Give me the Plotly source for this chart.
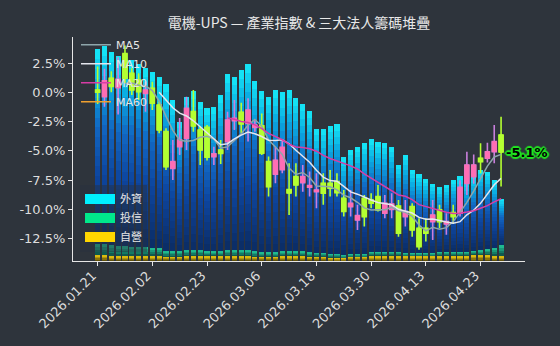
import plotly.graph_objects as go
import pandas as pd

# ---------------- data ----------------
dates = [
    "2026.01.21", "2026.01.22", "2026.01.23", "2026.01.26", "2026.01.27", "2026.01.28", "2026.01.29", "2026.01.30",
    "2026.02.02", "2026.02.03", "2026.02.04", "2026.02.05", "2026.02.06", "2026.02.09", "2026.02.10", "2026.02.11",
    "2026.02.23", "2026.02.24", "2026.02.25", "2026.02.26", "2026.03.02", "2026.03.03", "2026.03.04", "2026.03.05",
    "2026.03.06", "2026.03.09", "2026.03.10", "2026.03.11", "2026.03.12", "2026.03.13", "2026.03.16", "2026.03.17",
    "2026.03.18", "2026.03.19", "2026.03.20", "2026.03.23", "2026.03.24", "2026.03.25", "2026.03.26", "2026.03.27",
    "2026.03.30", "2026.03.31", "2026.04.01", "2026.04.02", "2026.04.07", "2026.04.08", "2026.04.09", "2026.04.10",
    "2026.04.13", "2026.04.14", "2026.04.15", "2026.04.16", "2026.04.17", "2026.04.20", "2026.04.21", "2026.04.22",
    "2026.04.23", "2026.04.24", "2026.04.27", "2026.04.28",
]

# industry index, % change vs. start
opens = [0.2, -0.37, 1.2, 0.4, 3.3, 1.62, 1.05, -0.09, 0.34, -1.08,
         -3.36, -6.49, -4.64, -3.93, -1.65, -3.22, -2.99, -5.49, -4.92, -4.21,
         -2.42, -1.7, -2.65, -2.99, -2.85, -5.92, -7.0, -6.6, -8.3, -7.2,
         -7.71, -8.1, -8.48, -7.77, -7.77, -7.62, -9.05, -9.76, -10.9, -9.05,
         -9.19, -8.9, -10.33, -9.99, -9.7, -10.61, -9.76, -11.61, -11.61, -11.04,
         -10.04, -11.24, -10.27, -10.33, -7.77, -7.2, -5.63, -5.63, -5.07, -3.64]
highs = [2.2, 2.0, 1.8, 3.0, 4.0, 2.05, 1.62, 0.91, 0.91, -0.8,
         -3.07, -4.07, -2.2, -0.37, 0.2, -2.93, -2.79, -4.64, -4.07, -1.65,
         -0.66, -0.9, -0.51, -2.36, -1.8, -5.49, -4.64, -4.07, -6.06, -6.06,
         -6.2, -6.77, -6.9, -6.9, -6.63, -6.9, -8.34, -8.34, -9.6, -8.76,
         -8.62, -7.91, -8.76, -8.62, -9.19, -9.19, -9.47, -10.75, -10.75, -9.19,
         -9.6, -10.33, -9.6, -7.5, -5.07, -5.3, -4.35, -4.3, -2.79, -2.08]
lows = [-1.0, -1.23, 0.0, -1.9, 0.8, -0.23, -0.66, -1.65, -1.51, -3.5,
        -6.63, -7.48, -5.35, -4.92, -3.36, -6.2, -5.83, -6.2, -6.12, -4.92,
        -3.22, -3.5, -4.21, -3.36, -5.35, -8.9, -7.76, -6.9, -10.47, -8.9,
        -8.48, -8.9, -9.9, -9.6, -8.9, -8.9, -10.61, -10.61, -11.75, -11.46,
        -9.9, -10.18, -10.75, -10.75, -12.32, -11.46, -12.32, -13.45, -12.74, -12.6,
        -11.6, -12.17, -11.2, -10.6, -8.76, -7.8, -6.91, -6.0, -6.06, -8.05]
closes = [0.0, 0.99, 0.5, 1.1, 1.2, 0.2, 0.05, 0.2, -0.94, -3.22,
          -6.35, -5.92, -4.07, -1.37, -2.88, -4.92, -5.55, -5.26, -5.21, -2.36,
          -2.22, -2.7, -1.51, -2.79, -5.2, -8.05, -5.8, -4.7, -8.6, -7.91,
          -7.2, -7.96, -8.34, -8.62, -8.19, -8.56, -10.18, -9.47, -10.53, -10.61,
          -9.47, -10.04, -9.47, -9.53, -12.03, -10.18, -11.75, -13.17, -12.03, -10.47,
          -11.04, -11.04, -10.61, -8.11, -6.2, -6.2, -5.92, -5.07, -4.21, -5.1]

# institutional chips (stacked)
foreign = [97.3, 99.0, 96.5, 95.0, 93.0, 93.5, 91.5, 89.5, 88.0, 85.5,
           83.5, 75.5, 64.7, 76.5, 79.7, 74.2, 71.5, 72.2, 78.0, 88.0,
           86.7, 90.0, 93.0, 85.2, 80.5, 77.5, 81.0, 79.7, 80.5, 76.5,
           73.5, 70.7, 62.0, 62.0, 64.0, 65.0, 49.2, 52.0, 53.7, 55.5,
           56.5, 55.2, 54.5, 52.7, 43.5, 49.0, 41.5, 39.5, 37.0, 34.5,
           32.5, 33.5, 36.0, 38.0, 36.0, 38.0, 40.0, 38.5, 34.0, 23.0]
trust = [5.5, 5.5, 5.5, 5.0, 5.0, 4.5, 4.5, 4.5, 4.0, 4.0,
         3.0, 3.0, 3.0, 3.0, 3.0, 3.0, 2.5, 2.5, 2.5, 3.0,
         3.0, 3.0, 3.0, 3.0, 2.5, 2.5, 2.5, 2.5, 2.5, 2.5,
         2.5, 2.5, 2.0, 2.0, 2.0, 2.0, 1.5, 1.5, 1.5, 1.5,
         2.0, 2.0, 2.0, 2.0, 2.0, 1.5, 1.5, 1.5, 1.5, 1.5,
         2.0, 2.0, 2.0, 2.0, 2.0, 2.0, 2.5, 3.0, 4.0, 5.5]
dealer = [3.0, 3.0, 2.5, 2.5, 2.5, 2.5, 2.5, 2.5, 2.5, 2.5,
          2.0, 2.0, 2.0, 2.5, 2.5, 2.5, 2.5, 2.5, 2.5, 2.5,
          2.5, 2.5, 2.5, 2.0, 2.0, 2.0, 2.0, 2.5, 2.5, 2.5,
          2.5, 2.0, 2.0, 2.0, 1.5, 1.5, 1.5, 2.0, 2.0, 2.0,
          2.5, 2.5, 2.5, 2.5, 2.5, 2.5, 2.5, 2.5, 2.5, 2.5,
          2.5, 2.5, 2.5, 2.5, 2.5, 3.0, 3.0, 3.0, 2.5, 2.5]

tick_labels = dates[::8]
y_ticks = [2.5, 0.0, -2.5, -5.0, -7.5, -10.0, -12.5]
title_text = "電機-UPS — 產業指數 & 三大法人籌碼堆疊"
chip_names = ["外資", "投信", "自營"]
ma_windows = [5, 10, 20, 60]

# ---------------- styling helpers ----------------
BG = "#2e343c"


def hex2rgb(h):
    h = h.lstrip("#")
    return tuple(int(h[i:i + 2], 16) for i in (0, 2, 4))


def grad(stops, t):
    for (t0, c0), (t1, c1) in zip(stops[:-1], stops[1:]):
        if t0 <= t <= t1:
            f = (t - t0) / (t1 - t0) if t1 > t0 else 0
            a, b = hex2rgb(c0), hex2rgb(c1)
            r = [round(a[i] + (b[i] - a[i]) * f) for i in range(3)]
            return "rgb(%d,%d,%d)" % tuple(r)
    return stops[-1][1]


cyan_stops = [(0, "#0b2c64"), (0.35, "#0d459e"), (0.6, "#1166c2"), (0.8, "#0aa6e0"), (1.0, "#16eaf8")]
green_stops = [(0, "#0c4a44"), (1.0, "#22c99a")]
yellow_stops = [(0, "#4a3e08"), (1.0, "#f0cc10")]

fig = go.Figure()


def add_segments(values, stops, k):
    for i in range(k):
        t = (i + 0.5) / k
        fig.add_trace(go.Bar(
            x=dates, y=[v / k for v in values], yaxis="y",
            marker=dict(color=grad(stops, t), line=dict(width=0)),
            showlegend=False, hoverinfo="skip"))


add_segments(dealer, yellow_stops, 4)
add_segments(trust, green_stops, 4)
add_segments(foreign, cyan_stops, 20)

# candles: wicks then bodies
UP_BODY = "#ff6eb4"
UP_WICK = "#c97fdc"
DOWN = "#b4ff32"
fig.add_trace(go.Candlestick(
    x=dates, open=opens, high=highs, low=lows, close=closes, yaxis="y2",
    increasing=dict(line=dict(color=UP_WICK, width=1.6), fillcolor=UP_WICK),
    decreasing=dict(line=dict(color=DOWN, width=1.6), fillcolor=DOWN),
    showlegend=False, hoverinfo="skip"))
body_hi = [max(o, c) for o, c in zip(opens, closes)]
body_lo = [min(o, c) for o, c in zip(opens, closes)]
fig.add_trace(go.Candlestick(
    x=dates, open=opens, high=body_hi, low=body_lo, close=closes, yaxis="y2",
    increasing=dict(line=dict(color=UP_BODY, width=1), fillcolor=UP_BODY),
    decreasing=dict(line=dict(color=DOWN, width=1), fillcolor=DOWN),
    showlegend=False, hoverinfo="skip"))

# moving averages
s = pd.Series(closes)
ma_colors = ["#8ea6ab", "#e4e6ee", "#d83ca6", "#f0a030"]
for w, col in zip(ma_windows, ma_colors):
    fig.add_trace(go.Scatter(
        x=dates, y=s.rolling(w).mean(), mode="lines", name="MA%d" % w,
        line=dict(color=col, width=1.5), yaxis="y2", legend="legend"))

# chip legend entries
chip_colors = ["#00f0ff", "#00e88c", "#ffd600"]
for name, col in zip(chip_names, chip_colors):
    fig.add_trace(go.Scatter(
        x=[dates[0]], y=[None], mode="lines", name=name,
        line=dict(color=col, width=10), yaxis="y2", legend="legend2"))

last = closes[-1]
G = "#22e622"
fig.add_annotation(
    x=dates[-1], y=last, xref="x", yref="y2", xanchor="left", yanchor="middle",
    xshift=3, showarrow=False, text="%.1f%%" % last,
    font=dict(size=13, color="#000000", family="DejaVu Sans", weight="bold",
              shadow=", ".join([f"{dx}px {dy}px 1px {G}" for dx, dy in
                                [(1, 1), (-1, -1), (1, -1), (-1, 1), (2, 0), (-2, 0), (0, 2), (0, -2)]])))

AX = "#e6e6e6"
fig.update_layout(
    template="none",
    width=560, height=346,
    margin=dict(l=73, r=35, t=37, b=85),
    paper_bgcolor=BG, plot_bgcolor=BG,
    barmode="stack", bargap=0.25, boxgap=0.15,
    font=dict(family="DejaVu Sans, Noto Sans CJK TC", color="#dddddd"),
    title=dict(text=title_text, x=0.5, xref="paper", xanchor="center",
               y=1 - 23 / 346, yanchor="middle",
               font=dict(size=14, color="#e8e8e8", family="Noto Sans CJK TC")),
    xaxis=dict(type="category", range=[-3.6, 62.5], tickmode="array",
               tickvals=tick_labels, ticktext=tick_labels, tickangle=-45,
               showline=True, linecolor=AX, linewidth=1, ticks="outside", ticklen=4,
               tickcolor=AX, showgrid=False, zeroline=False, automargin=False,
               ticklabelstandoff=-3, ticklabelshift=-5,
               tickfont=dict(size=13, color="#dddddd"),
               rangeslider=dict(visible=False)),
    yaxis=dict(range=[0, 112], visible=False, showgrid=False, zeroline=False,
               automargin=False),
    yaxis2=dict(overlaying="y", side="left", range=[-14.4, 4.72],
                tickmode="array", tickvals=y_ticks,
                ticktext=["%.1f%%" % v for v in y_ticks],
                showline=True, linecolor=AX, linewidth=1, ticks="outside",
                ticklen=4, tickcolor=AX, showgrid=False, zeroline=False,
                automargin=False, tickfont=dict(size=13, color="#dddddd")),
    legend=dict(x=0.0066, y=1.03, xanchor="left", yanchor="top",
                bgcolor="rgba(0,0,0,0)", font=dict(size=11, color="#e6e6e6"),
                tracegroupgap=0, traceorder="normal"),
    legend2=dict(x=0.0155, y=(261 - 184.5) / 224, xanchor="left", yanchor="top",
                 bgcolor="rgba(40,48,62,0.45)", font=dict(size=11, color="#e6e6e6"),
                 tracegroupgap=0, traceorder="normal"),
    showlegend=True,
)

fig.write_html("out.html")
